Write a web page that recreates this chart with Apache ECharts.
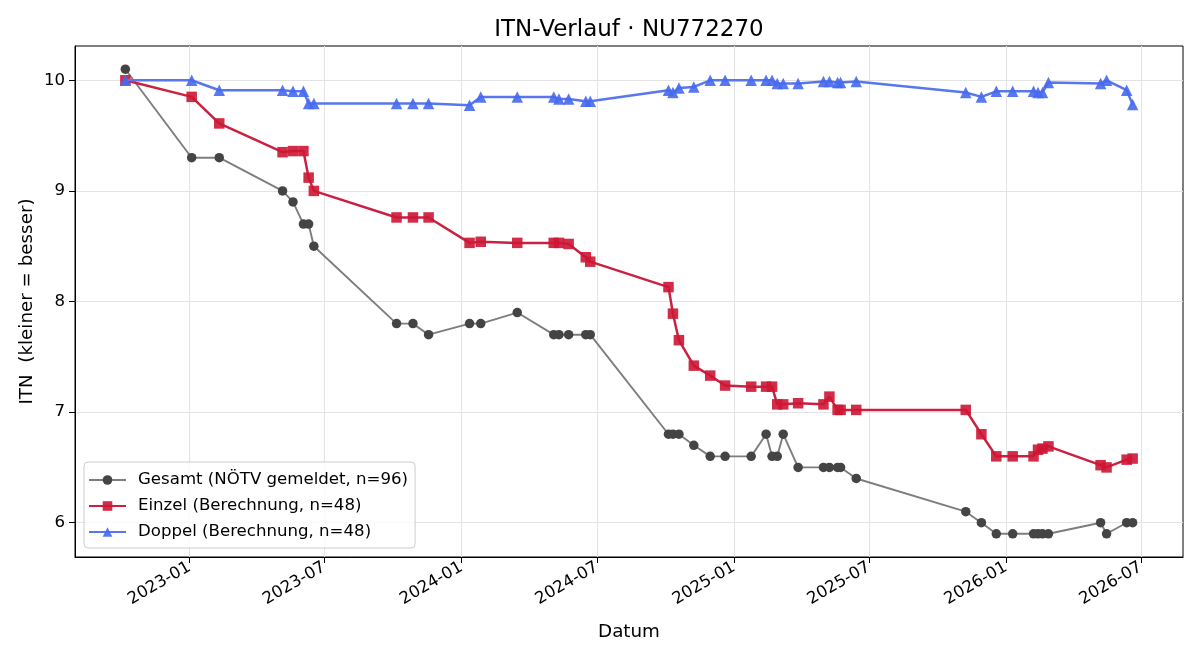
<!DOCTYPE html>
<html>
<head>
<meta charset="utf-8">
<script src="https://cdn.jsdelivr.net/npm/echarts@6/dist/echarts.min.js"></script>
<style>
html,body{margin:0;padding:0;background:#fff;}
#chart{width:1200px;height:660px;}
</style>
</head>
<body>
<div id="chart"></div>
<script>
const dates = [
  '2022-10-07','2023-01-04','2023-02-10','2023-05-06','2023-05-20','2023-06-03','2023-06-10','2023-06-17',
  '2023-10-06','2023-10-28','2023-11-18','2024-01-12','2024-01-27','2024-03-16','2024-05-04','2024-05-11',
  '2024-05-24','2024-06-16','2024-06-22','2024-10-05','2024-10-11','2024-10-19','2024-11-08','2024-11-30',
  '2024-12-20','2025-01-24','2025-02-13','2025-02-21','2025-02-28','2025-03-08','2025-03-28','2025-05-01',
  '2025-05-09','2025-05-20','2025-05-24','2025-06-14','2025-11-08','2025-11-29','2025-12-19','2026-01-10',
  '2026-02-07','2026-02-13','2026-02-19','2026-02-27','2026-05-08','2026-05-16','2026-06-12','2026-06-20'
];
const gesamt = [
  10.1, 9.3, 9.3, 9.0, 8.9, 8.7, 8.7, 8.5,
  7.8, 7.8, 7.7, 7.8, 7.8, 7.9, 7.7, 7.7,
  7.7, 7.7, 7.7, 6.8, 6.8, 6.8, 6.7, 6.6,
  6.6, 6.6, 6.8, 6.6, 6.6, 6.8, 6.5, 6.5,
  6.5, 6.5, 6.5, 6.4, 6.1, 6.0, 5.9, 5.9,
  5.9, 5.9, 5.9, 5.9, 6.0, 5.9, 6.0, 6.0
];
const einzel = [
  10.0, 9.85, 9.61, 9.35, 9.36, 9.36, 9.12, 9.0,
  8.76, 8.76, 8.76, 8.53, 8.54, 8.53, 8.53, 8.53,
  8.52, 8.40, 8.36, 8.13, 7.89, 7.65, 7.42, 7.33,
  7.24, 7.23, 7.23, 7.23, 7.07, 7.07, 7.08, 7.07,
  7.14, 7.02, 7.02, 7.02, 7.02, 6.80, 6.60, 6.60,
  6.60, 6.66, 6.67, 6.69, 6.52, 6.50, 6.57, 6.58
];
const doppel = [
  10.0, 10.0, 9.91, 9.91, 9.90, 9.90, 9.79, 9.79,
  9.79, 9.79, 9.79, 9.775, 9.85, 9.85, 9.85, 9.83,
  9.83, 9.81, 9.81, 9.91, 9.89, 9.93, 9.94, 10.0,
  10.0, 10.0, 10.0, 10.0, 9.97, 9.97, 9.97, 9.99,
  9.99, 9.98, 9.98, 9.99, 9.89, 9.85, 9.90, 9.90,
  9.90, 9.89, 9.89, 9.98, 9.97, 10.0, 9.91, 9.78
];
const xTickDates = ['2023-01-01','2023-07-01','2024-01-01','2024-07-01','2025-01-01','2025-07-01','2026-01-01','2026-07-01'];
const yTicks = [6, 7, 8, 9, 10];
const seriesNames = ['Gesamt (NÖTV gemeldet, n=96)', 'Einzel (Berechnung, n=48)', 'Doppel (Berechnung, n=48)'];

const toTs = s => { const p = s.split('-').map(Number); return Date.UTC(p[0], p[1]-1, p[2]); };
const ts = dates.map(toTs);
const xMinD = ts[0], xMaxD = ts[ts.length-1];
const xPad = 0.05 * (xMaxD - xMinD);
const allY = gesamt.concat(einzel, doppel);
const yMinD = Math.min(...allY), yMaxD = Math.max(...allY);
const yPad = 0.05 * (yMaxD - yMinD);
const pair = arr => ts.map((t, i) => [t, arr[i]]);
const FONT = 'DejaVu Sans';
const FS_TICK = 16.6;
const FS_LEG = 16.6;
const FS_NAME = 18.3;

const chart = echarts.init(document.getElementById('chart'), null, {renderer: 'canvas'});
chart.setOption({
  animation: false,
  backgroundColor: '#ffffff',
  textStyle: {fontFamily: FONT},
  title: {
    text: 'ITN-Verlauf · NU772270',
    left: 624, top: 14, textAlign: 'center',
    textStyle: {fontFamily: FONT, fontSize: 23, fontWeight: 'normal', color: '#000'}
  },
  grid: {left: 75, right: 17, top: 46, bottom: 103, show: true, borderColor: '#000', borderWidth: 1, backgroundColor: 'transparent'},
  legend: {
    orient: 'vertical', left: 84, top: 462,
    padding: [9, 7, 7, 4], itemGap: 8, itemWidth: 37, itemHeight: 12,
    backgroundColor: 'rgba(255,255,255,0.8)', borderColor: '#cccccc', borderWidth: 1, borderRadius: 4,
    textStyle: {fontFamily: FONT, fontSize: FS_LEG, color: '#000', padding: [0, 0, 0, 7], lineHeight: 18},
    data: seriesNames
  },
  xAxis: {
    type: 'value', min: xMinD - xPad, max: xMaxD + xPad,
    name: 'Datum', nameLocation: 'middle', nameGap: 66, nameMoveOverlap: false,
    nameTextStyle: {fontFamily: FONT, fontSize: FS_NAME, color: '#000'},
    axisLine: {show: true, onZero: false, lineStyle: {color: '#000', width: 1}},
    axisTick: {show: true, length: 6, lineStyle: {color: '#000'}, customValues: xTickDates.map(toTs)},
    axisLabel: {
      show: true, rotate: 30, margin: 9, fontFamily: FONT, fontSize: FS_TICK, color: '#000',
      customValues: xTickDates.map(toTs),
      formatter: v => { const d = new Date(v); return d.getUTCFullYear() + '-' + String(d.getUTCMonth()+1).padStart(2, '0'); }
    },
    splitLine: {show: true, lineStyle: {color: '#e3e3e3', width: 1}}
  },
  yAxis: {
    type: 'value', min: yMinD - yPad, max: yMaxD + yPad,
    name: 'ITN  (kleiner = besser)', nameLocation: 'middle', nameGap: 39, nameRotate: 90, nameMoveOverlap: false,
    nameTextStyle: {fontFamily: FONT, fontSize: FS_NAME, color: '#000'},
    axisLine: {show: true, onZero: false, lineStyle: {color: '#000', width: 1}},
    axisTick: {show: true, length: 6, lineStyle: {color: '#000'}, customValues: yTicks},
    axisLabel: {show: true, margin: 10, fontFamily: FONT, fontSize: FS_TICK, color: '#000', customValues: yTicks,
      formatter: v => String(Math.round(v))},
    splitLine: {show: true, lineStyle: {color: '#e3e3e3', width: 1}}
  },
  series: [
    {
      name: seriesNames[0], type: 'line', data: pair(gesamt), z: 3,
      symbol: 'circle', symbolSize: 9.5,
      lineStyle: {color: '#7d7d7d', width: 1.9},
      itemStyle: {color: '#444444', opacity: 1}
    },
    {
      name: seriesNames[1], type: 'line', data: pair(einzel), z: 4,
      symbol: 'rect', symbolSize: 10.5,
      lineStyle: {color: '#cb2140', width: 2.5},
      itemStyle: {color: 'rgba(204,22,52,0.9)'}
    },
    {
      name: seriesNames[2], type: 'line', data: pair(doppel), z: 5,
      symbol: 'triangle', symbolSize: 11.5,
      lineStyle: {color: '#5877ef', width: 2.5},
      itemStyle: {color: 'rgba(70,105,238,0.9)'}
    }
  ]
});
</script>
</body>
</html>
